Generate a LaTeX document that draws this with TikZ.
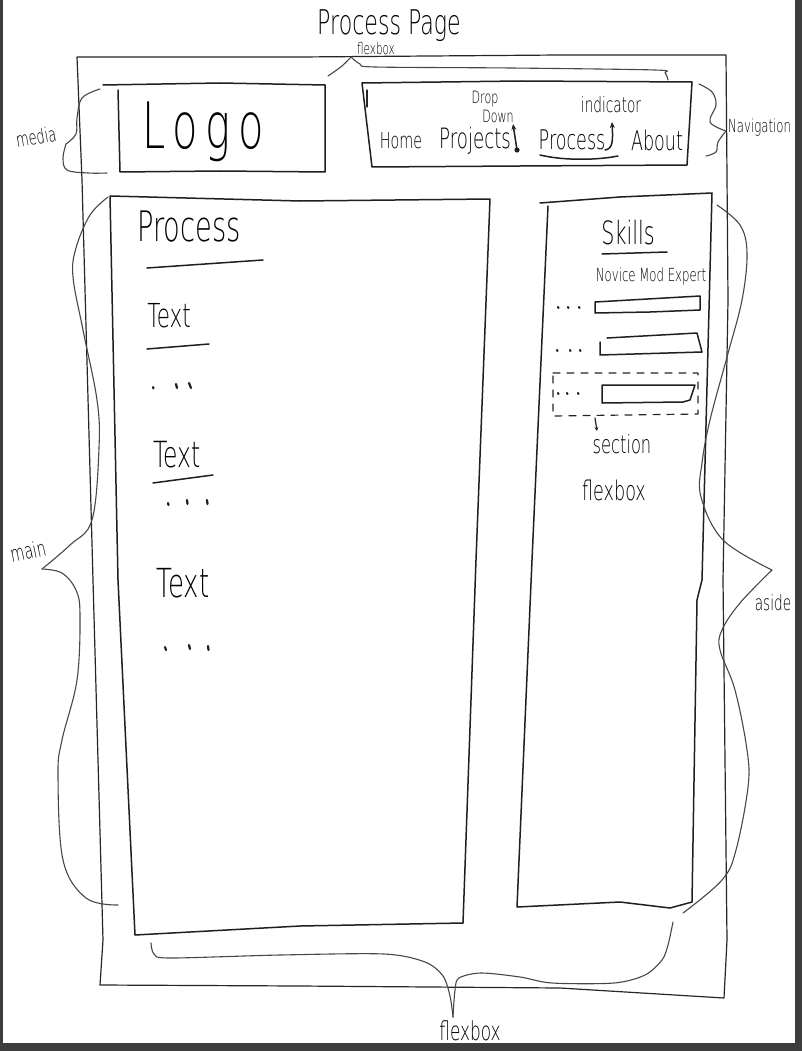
\documentclass[tikz,border=0pt]{standalone}
\usepackage{fontspec}
\newfontfamily\hand[FakeStretch=0.65]{DejaVu Sans ExtraLight}
\newcommand\handsz[1]{\fontsize{#1}{#1}\selectfont}
\usetikzlibrary{arrows.meta}

\begin{document}
\begin{tikzpicture}[x=1pt,y=-1pt,
  ink/.style={draw=black!88, line width=1.5pt, line join=round, line cap=round},
  thin ink/.style={draw=black!85, line width=1.2pt, line join=round, line cap=round},
  brace/.style={draw=black!72, line width=1.1pt, line cap=round, line join=round},
  lbl/.style={font=\hand, text=black, inner sep=0pt},
  dotmark/.style={draw=black!88, line width=2.2pt, line cap=round},
  ]
\useasboundingbox (0,0) rectangle (802,1051);
\fill[white] (0,0) rectangle (802,1051);
% dark edges of the scanned sheet
\fill[black!76] (795,0) rectangle (802,1051);
\fill[black!76] (0,1043) rectangle (802,1051);
\fill[black!76] (0,0) rectangle (3,1051);

% ---------- page title ----------
\node[lbl, font=\hand\handsz{34}] (title) at (389,26) {Process Page};
\node[lbl, font=\hand\handsz{16}] (fbtop) at (376,49) {flexbox};

% ---------- outer page box ----------
\draw[thin ink] (77,57) -- (300,57) -- (560,55) -- (726,55) -- (728,300) -- (723,580)
  -- (727,940) -- (724,998) -- (560,988) -- (300,986) -- (100,985) -- (103,940)
  -- (93,580) -- (82,180) -- cycle;

% flexbox brace over the header row
\draw[brace] plot[smooth, tension=0.5] coordinates {(328,76) (342,66) (351,57)};
\draw[brace] plot[smooth, tension=0.5] coordinates {(351,57) (360,64) (375,67) (511,68) (655,70) (665,73) (668,80)};

% ---------- header: logo ----------
\draw[ink] (103,85) -- (220,83) -- (325,85) -- (325,172) -- (220,171) -- (120,172) -- (118,90);
\node[lbl, font=\hand\handsz{64}\addfontfeature{LetterSpace=12}] (logo) at (203,132) {Logo};

% media brace
\draw[brace] plot[smooth, tension=0.6] coordinates {(100,89) (82,98) (77,118) (76,134) (66,144)};
\draw[brace] plot[smooth, tension=0.6] coordinates {(66,144) (63,158) (67,170) (88,173) (107,173)};
\node[lbl, font=\hand\handsz{20}, rotate=10] (media) at (36,137) {media};

% ---------- header: navigation ----------
\draw[ink] (362,83) -- (520,81) -- (692,82) -- (687,165) -- (520,166) -- (372,167) -- cycle;
\draw[thin ink] (367,90) -- (367,107);
\node[lbl, font=\hand\handsz{22}] (home) at (401,141) {Home};
\node[lbl, font=\hand\handsz{28}] (projects) at (475,141) {Projects};
\node[lbl, font=\hand\handsz{27}] (navproc) at (572,140) {Process};
\node[lbl, font=\hand\handsz{27}] (about) at (657,140) {About};
\node[lbl, font=\hand\handsz{17}] (drop) at (485,99) {Drop};
\node[lbl, font=\hand\handsz{17}] (down) at (498,116) {Down};
\node[lbl, font=\hand\handsz{21}] (indic) at (611,105) {indicator};

% drop-down marker under "Down"
\coordinate (ddbase) at (517,150);
\coordinate (ddtip) at (513,124);
\fill[black!88] (ddbase) circle (2.6);
\draw[ink, -{Stealth[length=6pt,width=5pt]}] (ddbase) -- (ddtip);
% current-page indicator
\draw[ink] (540,155) .. controls (565,161) and (598,160) .. (618,156);
\coordinate (indbase) at (605,150);
\coordinate (indtip) at (612,122);
\draw[ink, -{Stealth[length=6pt,width=5pt]}] (indbase) .. controls (613,149) and (613,140) .. (indtip);

% navigation brace
\draw[brace] plot[smooth, tension=0.6] coordinates {(699,84) (712,92) (716,105) (710,122) (726,131)};
\draw[brace] plot[smooth, tension=0.6] coordinates {(726,131) (718,142) (716,152) (706,156)};
\node[lbl, font=\hand\handsz{18}, anchor=west] (nav) at (728,128) {Navigation};

% ---------- main column ----------
\draw[ink] (110,196) -- (300,201) -- (490,199) -- (476,560) -- (463,923) -- (300,926)
  -- (135,935) -- (118,580) -- cycle;
\node[lbl, font=\hand\handsz{42}] (proc) at (189,227) {Process};
\draw[ink] (147,268) -- (263,260);

\node[lbl, font=\hand\handsz{33}] (t1) at (169,316) {Text};
\draw[ink] (147,349) -- (209,344);
\draw[dotmark] (153,387) -- (153.5,388.5);
\draw[dotmark] (176,384) -- (177,388);
\draw[dotmark] (189,383) -- (191,388);

\node[lbl, font=\hand\handsz{36}] (t2) at (177,455) {Text};
\draw[ink] (153,483) -- (213,475);
\draw[dotmark] (168,503) -- (168.5,505);
\draw[dotmark] (187,500) -- (187.5,504);
\draw[dotmark] (207,500) -- (207.5,504);

\node[lbl, font=\hand\handsz{40}] (t3) at (183,583) {Text};
\draw[dotmark] (165,647) -- (166,650);
\draw[dotmark] (189,645) -- (190,649);
\draw[dotmark] (208,646) -- (208.5,650);

% main brace
\coordinate (maintip) at (42,569);
\draw[brace] plot[smooth, tension=0.6] coordinates {(108,197) (90,215) (76,248) (73,277) (83,330) (97,400) (99,448) (92,520) (70,545) (maintip)};
\draw[brace] plot[smooth, tension=0.6] coordinates {(maintip) (62,573) (76,590) (80,615) (77,680) (62,740) (58,775) (63,860) (86,898) (118,905)};
\node[lbl, font=\hand\handsz{22}, rotate=12] (mainlbl) at (28,551) {main};

% ---------- aside column ----------
\draw[ink] (540,203) -- (620,197) -- (712,193) -- (702,580) -- (697,600) -- (692,902)
  -- (670,908) -- (620,902) -- (517,907) -- (532,560) -- (548,206);
\node[lbl, font=\hand\handsz{32}] (skills) at (628,233) {Skills};
\draw[ink] (602,254) -- (667,252);
\node[lbl, font=\hand\handsz{18}] (levels) at (651,277) {Novice Mod Expert};

% skill rows
\draw[dotmark] (558,307) -- (558.5,308);
\draw[dotmark] (568,307) -- (568.5,308);
\draw[dotmark] (579,307) -- (579.5,308);
\draw[ink] (595,302) -- (700,296) -- (700,310) -- (650,312) -- (595,313) -- cycle;

\draw[dotmark] (557,350) -- (557.5,351);
\draw[dotmark] (570,350) -- (570.5,351);
\draw[dotmark] (580,350) -- (580.5,351);
\draw[ink] (607,338) -- (697,333) -- (702,352) -- (600,355) -- (600,342);

\draw[thin ink, dash pattern=on 7pt off 7pt] (553,373) -- (698,373) -- (698,414) -- (553,416) -- cycle;
\draw[dotmark] (558,393) -- (558.5,394);
\draw[dotmark] (567,393) -- (567.5,394);
\draw[dotmark] (578,393) -- (578.5,394);
\draw[ink] (602,385) -- (695,385) -- (690,400) -- (683,402) -- (602,403) -- cycle;

\node[lbl, font=\hand\handsz{25}] (section) at (622,444) {section};
\draw[thin ink, -{Stealth[length=4pt,width=4pt]}] (595,418) -- (597,431);
\node[lbl, font=\hand\handsz{27}] (fbaside) at (614,490) {flexbox};

% aside brace
\coordinate (asidetip) at (772,570);
\draw[brace] plot[smooth, tension=0.6] coordinates {(717,205) (740,225) (747,253) (742,300) (727,357) (710,420) (702,463) (701,497) (723,540) (asidetip)};
\draw[brace] plot[smooth, tension=0.6] coordinates {(asidetip) (740,603) (722,630) (720,650) (735,690) (747,750) (748,787) (736,850) (722,880) (683,913)};
\node[lbl, font=\hand\handsz{21}] (asidelbl) at (773,603) {aside};

% ---------- bottom flexbox brace ----------
\coordinate (bottip) at (453,1017);
\draw[brace] plot[smooth, tension=0.5] coordinates {(151,943) (154,954) (170,958) (280,955) (384,954) (425,962) (443,976) (450,996) (bottip)};
\draw[brace] plot[smooth, tension=0.5] coordinates {(bottip) (455,990) (459,978) (481,973) (520,977) (552,983) (614,983) (645,975) (662,960) (668,945) (673,922)};
\node[lbl, font=\hand\handsz{26}] (fbbottom) at (470,1031) {flexbox};

\end{tikzpicture}
\end{document}
